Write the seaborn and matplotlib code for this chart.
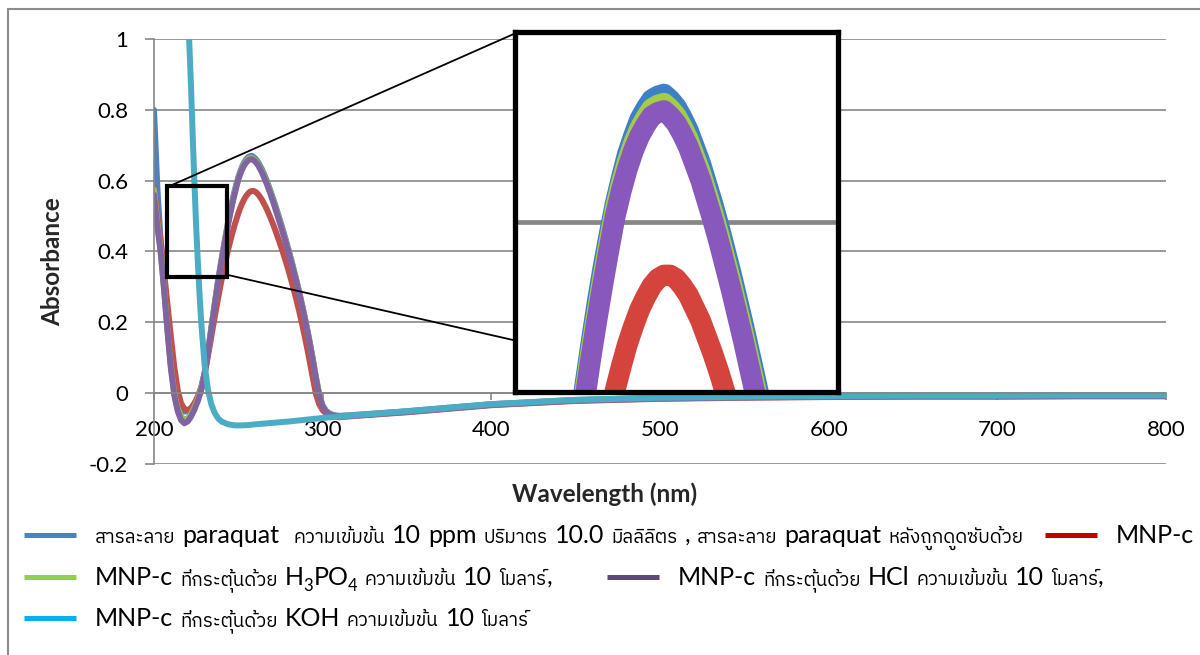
import re
import matplotlib
matplotlib.use("Agg")
import numpy as np
import pandas as pd
import seaborn as sns
import matplotlib.pyplot as plt
from matplotlib import font_manager
from matplotlib.ft2font import FT2Font
from matplotlib.lines import Line2D
from matplotlib.patches import Rectangle

# ---------------------------------------------------------------- data
series_names = [
    "สารละลาย paraquat  ความเข้มข้น 10 ppm ปริมาตร 10.0 มิลลิลิตร , สารละลาย paraquat หลังถูกดูดซับด้วย",
    "MNP-c",
    "MNP-c ที่กระตุ้นด้วย H₃PO₄ ความเข้มข้น 10 โมลาร์,",
    "MNP-c ที่กระตุ้นด้วย HCl ความเข้มข้น 10 โมลาร์,",
    "MNP-c ที่กระตุ้นด้วย KOH ความเข้มข้น 10 โมลาร์",
]

# nm; finer steps across the absorption maximum
wavelength = [200, 202, 204, 206, 208, 210, 212, 214, 216, 218, 220, 222, 224, 226,
              228, 230, 232, 234, 236, 238, 240, 242, 244,
              245, 246, 247, 248, 249, 250, 251, 252, 253, 254, 255, 256, 257, 258,
              259, 260, 261, 262, 263, 264, 265, 266, 267, 268, 269, 270, 271,
              272, 274, 276, 278, 280, 282, 284, 286, 288, 290, 292, 294, 296, 298,
              300, 302, 304, 306, 308, 310,
              320, 350, 400, 450, 500, 550, 600, 650, 700, 750, 800]

abs_paraquat = [0.800, 0.580, 0.425, 0.300, 0.185, 0.082, 0.012, -0.028, -0.046, -0.052,
                -0.051, -0.043, -0.029, -0.010, 0.016, 0.058, 0.117, 0.185, 0.253, 0.318,
                0.377, 0.432, 0.485,
                0.510, 0.533, 0.555, 0.575, 0.593, 0.610, 0.624, 0.637, 0.647, 0.656,
                0.662, 0.667, 0.669, 0.670, 0.667, 0.663, 0.657, 0.650, 0.641, 0.632,
                0.621, 0.610, 0.598, 0.585, 0.572, 0.558, 0.544,
                0.529, 0.499, 0.468, 0.435, 0.401, 0.365, 0.327, 0.287, 0.245, 0.200,
                0.152, 0.100, 0.045, -0.005, -0.036, -0.050, -0.057, -0.061, -0.063, -0.064,
                -0.061, -0.051, -0.031, -0.019, -0.013, -0.010, -0.008, -0.007, -0.007, -0.006, -0.006]

abs_mnpc = [0.580, 0.500, 0.430, 0.340, 0.250, 0.160, 0.075, 0.010, -0.028, -0.044,
            -0.048, -0.042, -0.029, -0.010, 0.016, 0.055, 0.105, 0.160, 0.215, 0.268,
            0.318, 0.364, 0.406,
            0.425, 0.444, 0.461, 0.478, 0.493, 0.508, 0.521, 0.533, 0.543, 0.552,
            0.559, 0.565, 0.569, 0.571, 0.571, 0.569, 0.565, 0.560, 0.553, 0.546,
            0.537, 0.528, 0.518, 0.507, 0.496, 0.484, 0.472,
            0.459, 0.432, 0.404, 0.374, 0.342, 0.308, 0.272, 0.233, 0.191, 0.146,
            0.098, 0.047, -0.002, -0.032, -0.048, -0.057, -0.062, -0.065, -0.067, -0.068,
            -0.064, -0.054, -0.034, -0.022, -0.016, -0.013, -0.011, -0.010, -0.010, -0.009, -0.009]

abs_h3po4 = [0.575, 0.480, 0.400, 0.293, 0.178, 0.075, 0.000, -0.043, -0.066, -0.075,
             -0.071, -0.058, -0.039, -0.016, 0.013, 0.056, 0.116, 0.184, 0.252, 0.317,
             0.374, 0.429, 0.482,
             0.506, 0.529, 0.550, 0.570, 0.589, 0.607, 0.621, 0.633, 0.643, 0.651,
             0.657, 0.662, 0.664, 0.665, 0.662, 0.658, 0.652, 0.645, 0.636, 0.627,
             0.616, 0.605, 0.593, 0.580, 0.567, 0.553, 0.539,
             0.524, 0.494, 0.463, 0.431, 0.398, 0.363, 0.326, 0.287, 0.245, 0.200,
             0.152, 0.100, 0.045, -0.005, -0.036, -0.050, -0.058, -0.062, -0.064, -0.065,
             -0.062, -0.052, -0.032, -0.020, -0.014, -0.011, -0.009, -0.008, -0.008, -0.007, -0.007]

abs_hcl = [0.560, 0.470, 0.395, 0.290, 0.175, 0.070, -0.005, -0.050, -0.076, -0.085,
           -0.080, -0.066, -0.046, -0.022, 0.008, 0.052, 0.112, 0.180, 0.248, 0.313,
           0.370, 0.425, 0.478,
           0.502, 0.525, 0.546, 0.566, 0.585, 0.603, 0.617, 0.629, 0.639, 0.647,
           0.653, 0.658, 0.660, 0.661, 0.658, 0.654, 0.648, 0.641, 0.632, 0.623,
           0.612, 0.601, 0.589, 0.576, 0.563, 0.549, 0.535,
           0.520, 0.490, 0.459, 0.427, 0.394, 0.359, 0.322, 0.283, 0.241, 0.196,
           0.148, 0.096, 0.041, -0.008, -0.038, -0.052, -0.059, -0.063, -0.065, -0.066,
           -0.063, -0.053, -0.033, -0.021, -0.015, -0.012, -0.010, -0.009, -0.009, -0.008, -0.008]

wavelength_koh = [218, 219, 220, 221, 222, 223, 224, 225, 226, 227, 228, 230, 232, 234,
                  236, 238, 240, 244, 248, 252, 256, 260, 270, 280, 290, 300, 310, 320,
                  350, 400, 450, 500, 550, 600, 650, 700, 750, 800]
abs_koh = [1.40, 1.22, 1.09, 0.98, 0.86, 0.72, 0.59, 0.47, 0.37, 0.28, 0.20, 0.080, 0.010,
           -0.032, -0.056, -0.071, -0.080, -0.088, -0.091, -0.091, -0.090, -0.088, -0.084,
           -0.080, -0.075, -0.070, -0.066, -0.062, -0.051, -0.031, -0.019, -0.013, -0.010,
           -0.008, -0.007, -0.007, -0.006, -0.006]

x_ticks = [200, 300, 400, 500, 600, 700, 800]
y_ticks = [-0.2, 0.0, 0.2, 0.4, 0.6, 0.8, 1.0]
y_tick_labels = ["-0.2", "0", "0.2", "0.4", "0.6", "0.8", "1"]

line_colors = ["#4F81BD", "#C0504D", "#9BBB59", "#8064A2", "#4BACC6"]
zoom_colors = ["#3D80C8", "#D5443C", "#A3CC48", "#8858BD", "#4BACC6"]
key_colors = ["#4F81BD", "#C00000", "#92D050", "#5F497A", "#00B0F0"]

# ---------------------------------------------------------------- fonts
def family_with(char):
    code = ord(char)
    hits = []
    for entry in font_manager.fontManager.ttflist:
        try:
            if code in FT2Font(entry.fname).get_charmap():
                hits.append(entry.name)
        except Exception:
            continue
    hits.sort(key=lambda n: (0 if "Thai" in n else 1, n))
    return hits[0] if hits else "DejaVu Sans"

sns.set_theme(style="white")
thai_family = family_with("ส")
plt.rcParams["font.family"] = ["Lato", thai_family, "DejaVu Sans"]

# ---------------------------------------------------------------- figure
W, H = 1200, 655
fig = plt.figure(figsize=(W / 100, H / 100), dpi=100)
fig.patch.set_facecolor("white")
grid_gray = "#878787"

def fx(px):
    return px / W

def fy(py):
    return 1 - py / H

ax = fig.add_axes([fx(154), fy(464), (1166 - 154) / W, (464 - 39) / H])

frames = [pd.DataFrame({"wavelength": wavelength, "absorbance": vals, "series": name})
          for name, vals in zip(series_names[:4], [abs_paraquat, abs_mnpc, abs_h3po4, abs_hcl])]
frames.append(pd.DataFrame({"wavelength": wavelength_koh, "absorbance": abs_koh,
                            "series": series_names[4]}))
spectra = pd.concat(frames, ignore_index=True)

sns.lineplot(data=spectra, x="wavelength", y="absorbance", hue="series",
             hue_order=series_names, palette=dict(zip(series_names, line_colors)),
             estimator=None, sort=False, legend=False, linewidth=4.3,
             solid_joinstyle="round", ax=ax)

ax.set_xlim(200, 800)
ax.set_ylim(-0.2, 1.0)
ax.set_xticks(x_ticks)
ax.set_yticks(y_ticks)
ax.set_yticklabels(y_tick_labels)
ax.spines["bottom"].set_position(("data", 0))
ax.spines[["top", "right"]].set_visible(False)
for side in ("left", "bottom"):
    ax.spines[side].set_color(grid_gray)
    ax.spines[side].set_linewidth(1.2)
ax.grid(axis="y", color=grid_gray, linewidth=1.2)
ax.grid(axis="x", visible=False)
ax.set_axisbelow(True)
ax.tick_params(axis="y", direction="out", left=True, length=6.5, width=1.2,
               color=grid_gray, pad=12, labelsize=16, labelcolor="black")
ax.tick_params(axis="x", direction="out", bottom=True, length=5, width=1.2,
               color=grid_gray, pad=14, labelsize=16, labelcolor="black")

ax.set_ylabel("Absorbance", fontsize=17.5, fontweight="bold", va="center")
ax.yaxis.set_label_coords((53 - 154) / 1012, (464 - 262) / 425)
ax.set_xlabel("Wavelength (nm)", fontsize=17.5, fontweight="bold", va="center")
ax.xaxis.set_label_coords((605 - 154) / 1012, (464 - 494) / 425)

# zoom marker on the main plot
ax.add_patch(Rectangle((207.5, 0.329), 36.0, 0.256, fill=False, edgecolor="black",
                       linewidth=3.0, zorder=6))

# magnified view of the absorption peak
axin = fig.add_axes([fx(515), fy(392), (838 - 515) / W, (392 - 32) / H])
axin.set_facecolor("white")
sns.lineplot(data=spectra, x="wavelength", y="absorbance", hue="series",
             hue_order=series_names, palette=dict(zip(series_names, zoom_colors)),
             estimator=None, sort=False, legend=False, linewidth=15,
             solid_joinstyle="round", ax=axin)
axin.set_xlim(233.6, 286.5)
axin.set_ylim(0.507, 0.704)
axin.set_xticks([])
axin.set_yticks([0.6])
axin.grid(axis="y", color=grid_gray, linewidth=3.4)
axin.set_axisbelow(True)
axin.tick_params(left=False, labelleft=False, bottom=False, labelbottom=False)
axin.set_xlabel("")
axin.set_ylabel("")
for sp in axin.spines.values():
    sp.set_visible(True)
    sp.set_color("black")
    sp.set_linewidth(3.8)

# connector lines between the marker and the magnified view
fig.add_artist(Line2D([fx(172), fx(516)], [fy(185), fy(33)], color="black", lw=1.3))
fig.add_artist(Line2D([fx(228), fx(513)], [fy(275), fy(340)], color="black", lw=1.3))

# chart frame
fig.add_artist(Line2D([fx(8), 1.0], [fy(9), fy(9)], color="#8c8c8c", lw=1.5))
fig.add_artist(Line2D([fx(8), fx(8)], [0.0, fy(9)], color="#8c8c8c", lw=1.5))

# ---------------------------------------------------------------- legend
token_re = re.compile(r"[\u0E00-\u0E7F]+|[\u2080-\u2089]+| +|[^\u0E00-\u0E7F\u2080-\u2089 ]+")
sub_digits = str.maketrans("₀₁₂₃₄₅₆₇₈₉", "0123456789")
renderer = fig.canvas.get_renderer()
latin_size, thai_size, sub_size, space_px = 18, 13.5, 12, 7

def legend_entry(x_px, base_px, color, label):
    fig.add_artist(Line2D([fx(x_px), fx(x_px + 52)], [fy(base_px - 8)] * 2,
                          color=color, lw=3.6, solid_capstyle="butt"))
    x = x_px + 71
    for tok in token_re.findall(label):
        if tok.isspace():
            x += space_px * len(tok)
            continue
        if "\u0E00" <= tok[0] <= "\u0E7F":
            size, fam, drop = thai_size, [thai_family, "DejaVu Sans"], 0
        elif "\u2080" <= tok[0] <= "\u2089":
            tok, size, fam, drop = tok.translate(sub_digits), sub_size, ["Lato"], 6
        else:
            size, fam, drop = latin_size, ["Lato", "DejaVu Sans"], 0
        t = fig.text(fx(x), fy(base_px + drop), tok, fontsize=size, family=fam,
                     va="baseline", ha="left", color="black")
        x += t.get_window_extent(renderer).width

key_places = [(24, 543), (1045, 543), (24, 585), (607, 585), (24, 626)]
for (kx, ky), color, label in zip(key_places, key_colors, series_names):
    legend_entry(kx, ky, color, label)

fig.savefig("out.png", dpi=100, facecolor="white")
